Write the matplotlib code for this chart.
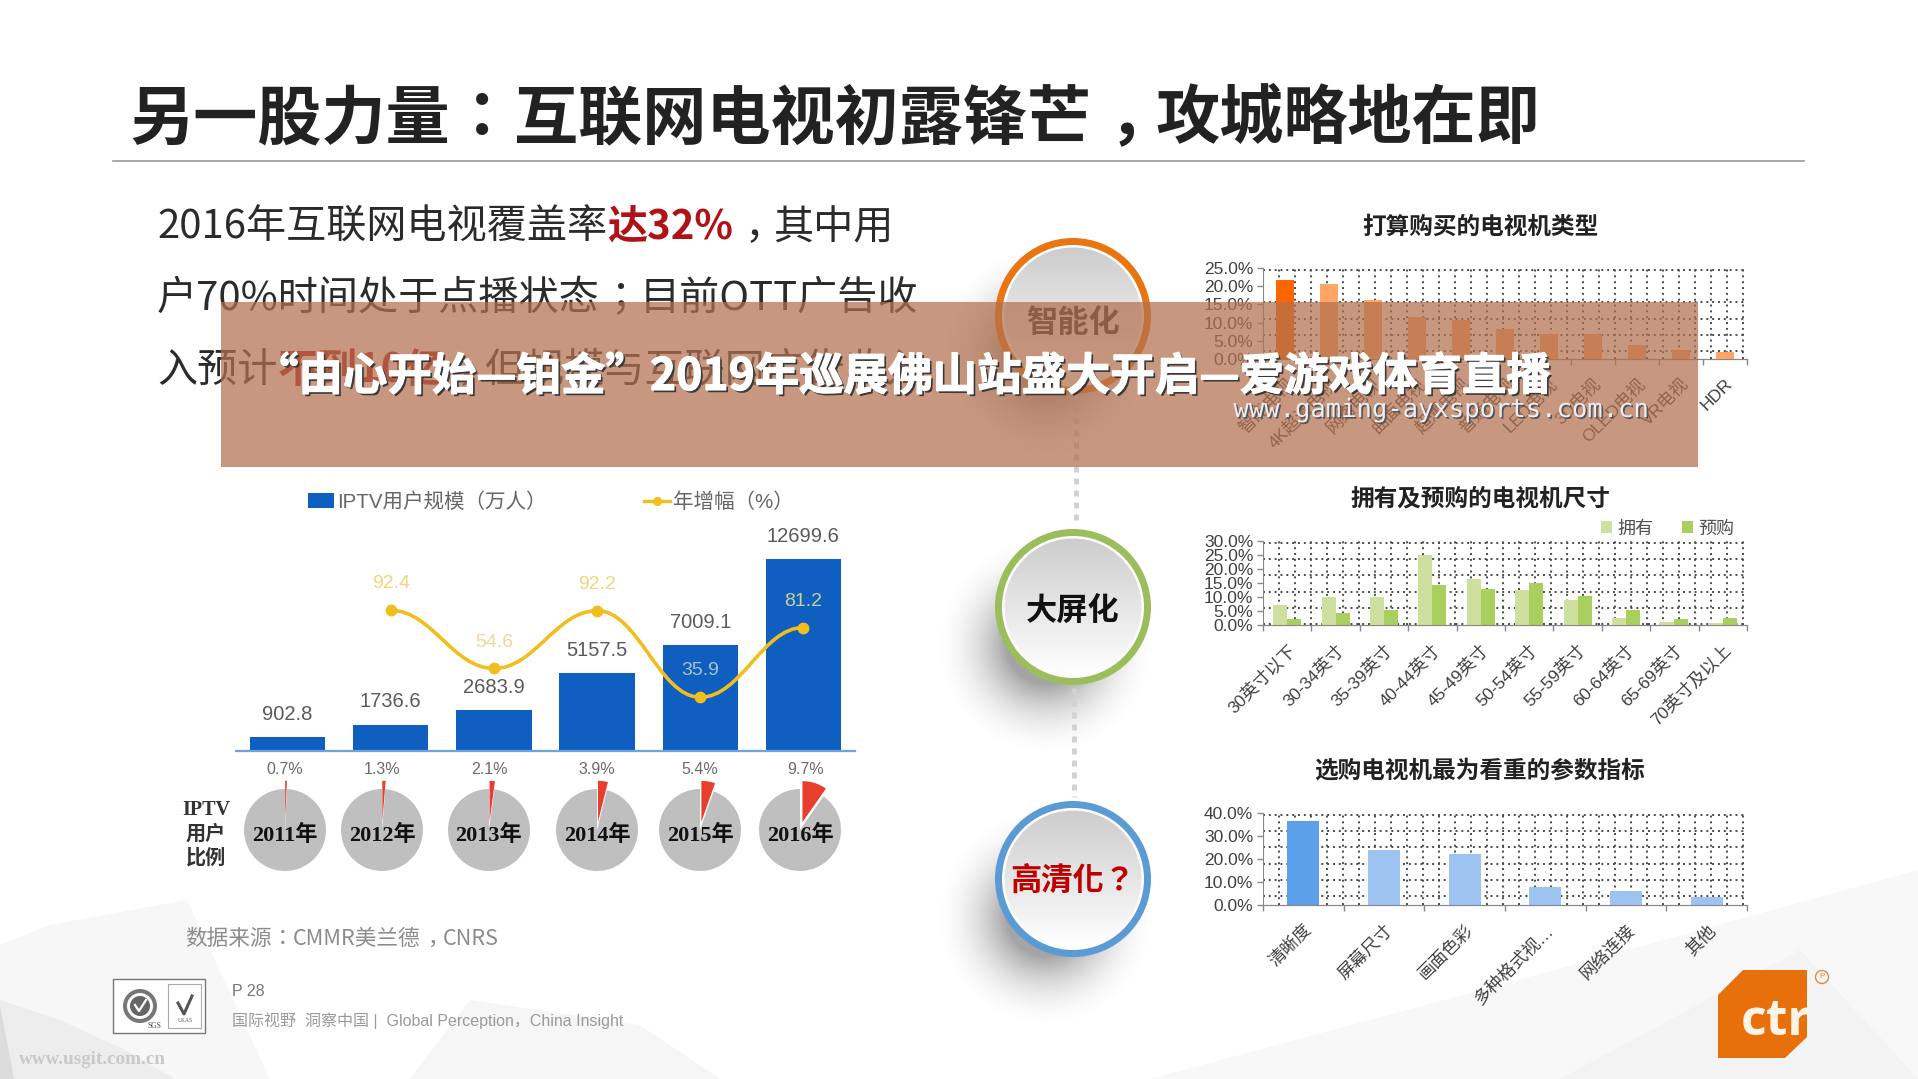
import matplotlib
matplotlib.use('Agg')
import matplotlib.pyplot as plt
import matplotlib.patheffects as pe
from matplotlib.lines import Line2D
from matplotlib.patches import Circle, Polygon, PathPatch, Rectangle
from matplotlib.path import Path
import numpy as np

plt.rcParams['font.family'] = ['Noto Sans CJK SC', 'DejaVu Sans']

W, H = 1918, 1079
SANS = ['Liberation Sans', 'Noto Sans CJK SC']
SERIF = ['Liberation Serif', 'Noto Sans CJK SC']
# 冒号、分号居中的字体
TC = ['Noto Sans CJK TC', 'DejaVu Sans']
SC = ['Noto Sans CJK SC', 'DejaVu Sans']

# IPTV chart
iptv_years = ['2011年', '2012年', '2013年', '2014年', '2015年', '2016年']
iptv_users = [902.8, 1736.6, 2683.9, 5157.5, 7009.1, 12699.6]
iptv_growth = [92.4, 54.6, 92.2, 35.9, 81.2]
iptv_share = [0.7, 1.3, 2.1, 3.9, 5.4, 9.7]
pie_cx = [285, 382, 489, 597, 700, 800]

# right hand charts
type_names = ['智能电视', '4K超清电视', '网络电视', '曲面电视', '超薄电视', '普通电视',
              'LED电视', '3D电视', 'OLED电视', 'VR电视', 'HDR']
type_vals = [21.8, 20.5, 16.2, 11.6, 10.7, 8.3, 6.8, 6.8, 3.8, 2.5, 1.8]

size_names = ['30英寸以下', '30-34英寸', '35-39英寸', '40-44英寸', '45-49英寸',
              '50-54英寸', '55-59英寸', '60-64英寸', '65-69英寸', '70英寸及以上']
size_own = [7.0, 10.0, 10.0, 25.0, 16.5, 12.5, 9.0, 2.5, 1.0, 0.7]
size_buy = [2.0, 4.2, 5.5, 14.3, 13.0, 15.0, 10.5, 5.2, 2.3, 2.5]

param_names = ['清晰度', '屏幕尺寸', '画面色彩', '多种格式视…', '网络连接', '其他']
param_vals = [36.4, 24.0, 22.1, 7.9, 6.1, 3.6]

fig = plt.figure(figsize=(W / 100, H / 100), dpi=100, facecolor='white')


def px_axes(x0, y0, x1, y1, z=1):
    # 像素坐标(左上角为原点)转成figure坐标
    ax = fig.add_axes([x0 / W, 1 - y1 / H, (x1 - x0) / W, (y1 - y0) / H], zorder=z)
    ax.patch.set_alpha(0)
    return ax


# ---------- background layer ----------
bg = px_axes(0, 0, W, H, 0)
bg.set_xlim(0, W)
bg.set_ylim(H, 0)
bg.axis('off')

for pts, col in [
    ([(0, 945), (50, 925), (187, 900), (270, 1079), (0, 1079)], '#f7f7f7'),
    ([(0, 1000), (60, 1020), (125, 1050), (175, 1079), (0, 1079)], '#ededed'),
    ([(0, 1005), (14, 1079), (0, 1079)], '#dcdcdc'),
    ([(410, 1079), (470, 1000), (640, 1025), (720, 1079)], '#f6f6f6'),
    ([(1150, 1079), (1500, 985), (1918, 870), (1918, 1079)], '#f8f8f8'),
    ([(1560, 1079), (1800, 950), (1918, 1079)], '#f3f3f3'),
]:
    bg.add_patch(Polygon(pts, closed=True, fc=col, ec='none'))

bg.plot([113, 1804], [161, 161], color='#9a9a9a', lw=1.2)


def text_runs(x, y, runs, size=29):
    # 逐段排字(y是基线),逗号在字格里居中,冒号分号用TC字形
    r = fig.canvas.get_renderer()
    em = size * 100 / 72
    for s, col, wt in runs:
        if s in ('：', '；'):
            bg.text(x, y, s, fontsize=size, color=col, fontweight=wt, va='baseline', ha='left', family=TC)
            x += em
        elif s == '，':
            bg.text(x + em * 0.28, y, s, fontsize=size, color=col, fontweight=wt, va='baseline', ha='left', family=SC)
            x += em
        else:
            t = bg.text(x, y, s, fontsize=size, color=col, fontweight=wt, va='baseline', ha='left', family=SC)
            x += t.get_window_extent(r).width


INK = '#222222'
text_runs(129, 138, [('另一股力量', INK, 'bold'), ('：', INK, 'bold'), ('互联网电视初露锋芒', INK, 'bold'),
                     ('，', INK, 'bold'), ('攻城略地在即', INK, 'bold')], size=46.2)

RED = '#b01218'
BODY = '#2b2b2b'
text_runs(157, 239, [('2016年互联网电视覆盖率', BODY, 'normal'), ('达32%', RED, 'bold'),
                     ('，', BODY, 'normal'), ('其中用', BODY, 'normal')], size=28.9)
text_runs(157, 310, [('户70%时间处于点播状态', BODY, 'normal'), ('；', BODY, 'normal'),
                     ('目前OTT广告收', BODY, 'normal')], size=28.9)
text_runs(157, 382, [('入预计', BODY, 'normal'), ('不到10亿', RED, 'bold'), ('，', BODY, 'normal'),
                     ('但规模与互联网广告收入', BODY, 'normal')], size=28.9)

# 连接虚线
bg.plot([1076, 1076], [394, 525], color='#d2d2d2', lw=3.6, ls=(0, (1.2, 1.2)))
bg.plot([1074, 1074], [688, 797], color='#d2d2d2', lw=3.6, ls=(0, (1.2, 1.2)))

# 圆形标签
yy, xx = np.mgrid[0:H, 0:W]
grad = np.linspace(0, 1, 256).reshape(-1, 1)
circles = [(316, '#e8750f', '智能化', '#2e2e2e', 7), (607, '#9bbe5c', '大屏化', '#111111', 5),
           (879, '#5b9bd5', '高清化？', '#c00000', 2)]
for cy, ring, label, tcol, dy in circles:
    d = ((xx - 1045) ** 2 + (yy - (cy + 38)) ** 2) ** 0.5
    a = np.clip((112 - d) / 74, 0, 1) ** 2 * 0.55
    shadow = np.zeros((H, W, 4))
    shadow[..., :3] = 0.35
    shadow[..., 3] = a
    bg.imshow(shadow, extent=(0, W, H, 0), aspect='auto', zorder=1)
    bg.add_patch(Circle((1073, cy), 78, fc=ring, ec='none', zorder=2))
    bg.add_patch(Circle((1073, cy), 71, fc='white', ec='none', zorder=2.1))
    im = bg.imshow(grad, cmap='gray', vmin=-4, vmax=1, extent=(1004, 1142, cy + 69, cy - 69),
                   aspect='auto', zorder=2.2)
    im.set_clip_path(Circle((1073, cy), 68.5, transform=bg.transData))
    bg.text(1073, cy + dy, label, fontsize=22.5, fontweight='bold', color=tcol,
            ha='center', va='center', zorder=3, family=TC if '？' in label else SC)
bg.set_xlim(0, W)
bg.set_ylim(H, 0)

# 页脚
GREY = '#8c8c8c'
text_runs(185, 945, [('数据来源', GREY, 'normal'), ('：', GREY, 'normal'), ('CMMR美兰德', GREY, 'normal'),
                     ('，', GREY, 'normal'), ('CNRS', GREY, 'normal')], size=15.6)
bg.text(232, 991, 'P 28', fontsize=11.5, color='#777777', va='center', family=SANS)
bg.text(232, 1021, '国际视野  洞察中国 |  Global Perception，China Insight', fontsize=11.5,
        color='#9a9a9a', va='center', family=SANS)
bg.text(19, 1059, 'www.usgit.com.cn', fontsize=13.7, fontweight='bold', color='#c9c9c9', va='center', family=SERIF)

# 认证标志
bg.add_patch(Rectangle((113, 979), 92, 54, fc='white', ec='#777777', lw=1))
bg.add_patch(Rectangle((168, 984), 33, 44, fc='white', ec='#aaaaaa', lw=0.8))
bg.add_patch(Circle((140, 1006), 17, fc='#777777', ec='none'))
bg.add_patch(Circle((140, 1006), 13, fc='white', ec='none'))
bg.add_patch(Circle((140, 1006), 10, fc='#666666', ec='none'))
bg.plot([135, 139, 146], [1005, 1011, 1000], color='white', lw=1.6)
bg.plot([178, 184, 192], [1003, 1014, 996], color='#555555', lw=2.2)
bg.text(154, 1026, 'SGS', fontsize=5.5, color='#444444', ha='center', va='center', family=SERIF)
bg.text(185, 1021, 'UKAS', fontsize=4, color='#555555', ha='center', va='center', family=SERIF)

# ctr logo
bg.add_patch(Polygon([(1743, 970), (1807, 970), (1807, 1037), (1785, 1058), (1718, 1058), (1718, 995)],
                     closed=True, fc='#e8700a', ec='none', joinstyle='round'))
bg.text(1741, 1035, 'ctr', fontsize=36, fontweight='bold', color='#fdf3e6', va='baseline', ha='left',
        family=['Open Sans'], clip_on=True)
bg.add_patch(Circle((1822, 977), 6.5, fc='none', ec='#e08a3a', lw=1))
bg.text(1822, 977, 'P', fontsize=6, color='#e08a3a', ha='center', va='center', family=SANS)

# ---------- IPTV chart ----------
ax = px_axes(236, 530, 855, 751)
x = np.arange(len(iptv_users))
ax.bar(x, iptv_users, width=0.73, color='#0f5fc0')
ax.set_xlim(-0.5, 5.5)
ax.set_ylim(0, 14617)
ax.set_xticks([])
ax.set_yticks([])
for s in ['top', 'left', 'right']:
    ax.spines[s].set_visible(False)
ax.spines['bottom'].set_color('#6fa3dc')
ax.spines['bottom'].set_linewidth(1.6)
for xi, v in zip(x, iptv_users):
    ax.annotate(f'{v}', (xi, v), xytext=(0, 16.5), textcoords='offset points', ha='center', va='center',
                fontsize=14.5, color='#5a5a5a', family=SANS)

ax2 = ax.twinx()
ax2.patch.set_alpha(0)
ax2.set_ylim(0.9, 144.7)
ax2.set_yticks([])
for s in ax2.spines.values():
    s.set_visible(False)
lx = x[1:].astype(float)
ly = np.array(iptv_growth)
# 平滑折线,控制点由数据点算出
verts = [(lx[0], ly[0])]
codes = [Path.MOVETO]
for i in range(len(lx) - 1):
    m0 = 0 if i == 0 else (ly[i + 1] - ly[i - 1]) / 2
    m1 = 0 if i == len(lx) - 2 else (ly[i + 2] - ly[i]) / 2
    # 山峰山谷处切线放平
    if i > 0 and (ly[i] - ly[i - 1]) * (ly[i + 1] - ly[i]) < 0:
        m0 = 0
    if i < len(lx) - 2 and (ly[i + 1] - ly[i]) * (ly[i + 2] - ly[i + 1]) < 0:
        m1 = 0
    verts += [(lx[i] + 0.4, ly[i] + m0 * 0.4), (lx[i + 1] - 0.4, ly[i + 1] - m1 * 0.4), (lx[i + 1], ly[i + 1])]
    codes += [Path.CURVE4] * 3
YEL = '#f2be1d'
ax2.add_patch(PathPatch(Path(verts, codes), fc='none', ec=YEL, lw=2.6))
ax2.plot(lx, ly, ls='none', marker='o', ms=7.5, color=YEL)
label_cols = ['#f4d47c', '#f0d79a', '#f4d47c', '#a9c4c8', '#c9d196']
for xi, v, c in zip(lx, iptv_growth, label_cols):
    ax2.annotate(f'{v}', (xi, v), xytext=(0, 19), textcoords='offset points', ha='center', va='center',
                 fontsize=14, color=c, family=SANS)

handles = [Rectangle((0, 0), 1, 1, fc='#0f5fc0'),
           Line2D([], [], color=YEL, lw=2.4, marker='o', ms=5.5)]
ax2.legend(handles, ['IPTV用户规模（万人）', '年增幅（%）'], ncol=2, frameon=False, loc='center',
           bbox_to_anchor=(551 / W, 1 - 502 / H), bbox_transform=fig.transFigure,
           handlelength=1.3, handletextpad=0.15, columnspacing=4.7, labelcolor='#666666',
           prop={'family': SANS, 'size': 14.8})

# 用户比例饼图
for i, (cx, share, year) in enumerate(zip(pie_cx, iptv_share, iptv_years)):
    r = 41 * 1.35
    pa = px_axes(cx - r, 830 - r, cx + r, 830 + r, 2)
    pa.pie([share, 100 - share], explode=(0.2, 0), startangle=90, counterclock=False,
           colors=['#e83e2e', '#bfbfbf'], radius=1, frame=False)
    pa.set_xlim(-1.35, 1.35)
    pa.set_ylim(-1.35, 1.35)
    pa.set_aspect('equal')
    pa.text(0, -0.13, year, fontsize=16, fontweight='bold', color='#111111', ha='center', va='center',
            family=SERIF)
    pa.text(0.14 if i == 5 else 0, 1.48, f'{share}%', fontsize=11.5, color='#6a6a6a', ha='center',
            va='center', family=SANS, clip_on=False)

for yy_, s in [(810, 'IPTV'), (835, '用户'), (859, '比例')]:
    bg.text(206, yy_, s, fontsize=14.5, fontweight='bold', color='#333333', ha='center', va='center',
            family=SERIF)


# ---------- right hand charts ----------
def small_chart(box, names, ymax, ystep, title, tpad):
    axx = px_axes(*box)
    x0, y0, x1, y1 = box
    n = len(names)
    axx.set_xlim(-0.5, n - 0.5)
    axx.set_ylim(0, ymax)
    axx.set_xticks(np.arange(n), names, rotation=45, ha='right', rotation_mode='anchor',
                   fontsize=12.5, color='#404040', family=SANS)
    axx.set_yticks(np.arange(0, ymax + 0.01, ystep))
    axx.set_yticklabels([f'{v:.1f}%' for v in np.arange(0, ymax + 0.01, ystep)], fontsize=12.5,
                        color='#404040', family=SANS)
    axx.tick_params(axis='x', length=0, pad=12)
    axx.tick_params(axis='y', length=4, width=1, color='#888888', pad=3)
    # 网格是固定16像素的方格,不跟刻度对齐
    axx.set_xticks(-0.5 + np.arange(0, x1 - x0, 16) * n / (x1 - x0), minor=True)
    axx.set_yticks(ymax - (2 + np.arange(0, y1 - y0 - 2, 16.2)) * ymax / (y1 - y0), minor=True)
    axx.tick_params(which='minor', length=0)
    axx.grid(which='minor', color='#4a4a4a', lw=1.4, ls=(0, (1, 2)))
    axx.set_axisbelow(True)
    for s in ['top', 'right']:
        axx.spines[s].set_visible(False)
    for s in ['left', 'bottom']:
        axx.spines[s].set_color('#888888')
    sec = axx.secondary_xaxis('bottom')
    sec.set_xticks(np.arange(n + 1) - 0.5)
    sec.set_xticklabels([])
    sec.tick_params(length=4, width=1, color='#888888')
    sec.spines['bottom'].set_color('#888888')
    axx.set_title(title, fontsize=17, fontweight='bold', color='#222222', pad=tpad, x=(1480 - x0) / (x1 - x0))
    return axx


a1 = small_chart((1263, 268, 1747, 359), type_names, 25, 5, '打算购买的电视机类型', 24.5)
a1.bar(np.arange(len(type_vals)), type_vals, width=0.39,
       color=['#ff6600'] + ['#ffa566'] * (len(type_vals) - 1))

a2 = small_chart((1263, 541, 1747, 625), size_names, 30, 5, '拥有及预购的电视机尺寸', 25.5)
xs = np.arange(len(size_own))
a2.bar(xs - 0.145, size_own, width=0.29, color='#cde0a0', label='拥有')
a2.bar(xs + 0.145, size_buy, width=0.29, color='#a9d05f', label='预购')
a2.legend(ncol=2, frameon=False, loc='center', bbox_to_anchor=(1668 / W, 1 - 529 / H),
          bbox_transform=fig.transFigure, handlelength=0.6, handleheight=0.7, handletextpad=0.3,
          columnspacing=1.6, prop={'family': SANS, 'size': 13}, labelcolor='#505050')

a3 = small_chart((1263, 813, 1747, 905), param_names, 40, 10, '选购电视机最为看重的参数指标', 25.5)
a3.bar(np.arange(len(param_vals)), param_vals, width=0.4,
       color=['#5ba0e8'] + ['#9dc3f0'] * (len(param_vals) - 1))

# ---------- banner on top ----------
top = px_axes(0, 0, W, H, 10)
top.set_xlim(0, W)
top.set_ylim(H, 0)
top.axis('off')
top.add_patch(Rectangle((221, 302), 1477, 165, fc=(178 / 255, 112 / 255, 78 / 255), alpha=0.72, ec='none'))
head = '“由心开始—铂金”2019年巡展佛山站盛大开启—爱游戏体育直播'
top.text(254, 377, head, fontsize=32, fontweight='bold', color='white', ha='left', va='center',
         path_effects=[pe.SimplePatchShadow(offset=(1.6, -1.6), shadow_rgbFace='#3a3a3a', alpha=1),
                       pe.withStroke(linewidth=0.8, foreground='white')])
top.text(1441, 410, 'www.gaming-ayxsports.com.cn', fontsize=18.4, color='#ececf2', ha='center', va='center',
         family=['DejaVu Sans Mono'],
         path_effects=[pe.SimplePatchShadow(offset=(1.2, -1.2), shadow_rgbFace='#555555', alpha=1), pe.Normal()])

fig.savefig('out.png', dpi=100)
